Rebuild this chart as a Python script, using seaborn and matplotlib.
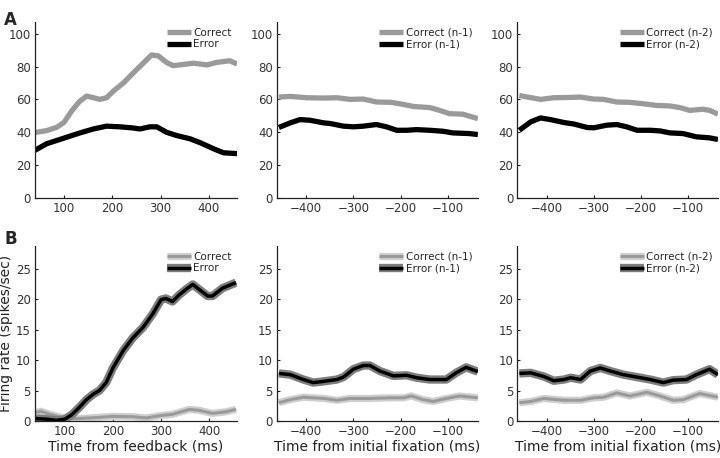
import numpy as np
import pandas as pd
import matplotlib
matplotlib.use("Agg")
import matplotlib.pyplot as plt
import matplotlib.patheffects as pe
import seaborn as sns

sns.set_theme(style="ticks")
plt.rcParams['font.family'] = ['DejaVu Sans']

# ---------------- data ----------------
# Panel A1 (time from feedback)
a1_c_x = [40, 64, 85, 100, 116, 133, 147, 161, 174, 188, 202, 223, 243, 264, 281, 295, 312, 326, 354, 368, 396, 416, 443, 458]
a1_c_y = [39.8, 41, 43, 46, 53, 59, 62, 61, 60, 61, 65, 70, 76, 82, 87, 86.5, 82.5, 80.5, 81.5, 82, 81, 82.5, 83.5, 81.5]
a1_e_x = [40, 64, 85, 106, 133, 161, 188, 216, 243, 257, 278, 292, 312, 333, 361, 382, 409, 430, 458]
a1_e_y = [29, 33, 35, 37, 39.6, 42, 43.7, 43.3, 42.6, 42, 43.3, 43.3, 40, 38, 36, 33.6, 30, 27.5, 27]

# Panel A2 (n-1)
a2_c_x = [-458, -434, -399, -363, -335, -307, -279, -251, -220, -201, -173, -138, -117, -96, -68, -36]
a2_c_y = [61.4, 61.8, 61, 60.8, 61, 60, 60.2, 58.4, 58.2, 57.3, 55.7, 55, 53.3, 51.3, 51, 48.3]
a2_e_x = [-458, -434, -413, -392, -363, -349, -321, -300, -279, -251, -230, -208, -187, -166, -138, -110, -89, -54, -36]
a2_e_y = [42.9, 45.7, 47.7, 47.3, 45.7, 45.3, 43.7, 43.3, 43.7, 44.7, 43.3, 41.2, 41.2, 41.6, 41.2, 40.6, 39.6, 39.2, 38.6]

# Panel A3 (n-2)
a3_c_x = [-458, -441, -413, -385, -349, -328, -300, -279, -251, -223, -194, -166, -138, -117, -96, -68, -54, -36]
a3_c_y = [62.4, 61.4, 60, 61, 61.2, 61.4, 60.2, 60, 58.4, 58.2, 57.3, 56.3, 56, 55, 53.3, 54, 53.3, 51]
a3_e_x = [-458, -434, -413, -392, -363, -342, -314, -300, -272, -251, -230, -208, -180, -159, -138, -110, -82, -54, -36]
a3_e_y = [41.2, 46.3, 48.7, 47.7, 45.9, 45, 42.9, 42.7, 44.3, 44.7, 43.3, 41.2, 41.2, 40.8, 39.6, 39.2, 37.2, 36.6, 35.6]

# Panel B1 (time from feedback)
b1_e_x = [40, 62, 83, 100, 114, 131, 145, 159, 172, 186, 200, 221, 241, 262, 283, 300, 310, 324, 338, 352, 366, 379, 397, 407, 428, 456]
b1_e_y = [0.4, 0.3, 0.1, 0.3, 1, 2.3, 3.5, 4.4, 5, 6.3, 8.7, 11.5, 13.6, 15.3, 17.6, 19.9, 20.1, 19.6, 20.7, 21.6, 22.4, 21.6, 20.5, 20.5, 21.8, 22.7]
b1_c_x = [40, 50, 69, 90, 103, 124, 152, 200, 241, 269, 300, 324, 359, 379, 407, 434, 456]
b1_c_y = [1.4, 1.6, 1.1, 0.65, 0.4, 0.4, 0.5, 0.75, 0.7, 0.5, 0.9, 1.1, 1.9, 1.75, 1.25, 1.5, 1.9]

# Panel B2 (n-1)
b2_e_x = [-458, -434, -406, -385, -363, -335, -321, -300, -279, -265, -244, -215, -187, -166, -138, -103, -82, -61, -36]
b2_e_y = [7.8, 7.6, 6.8, 6.3, 6.5, 6.8, 7.2, 8.5, 9.1, 9.1, 8.2, 7.4, 7.5, 7.1, 6.8, 6.8, 7.9, 8.8, 8.1]
b2_c_x = [-458, -434, -406, -363, -335, -307, -265, -223, -194, -177, -152, -131, -103, -75, -36]
b2_c_y = [3, 3.5, 3.9, 3.7, 3.4, 3.7, 3.7, 3.8, 3.8, 4.1, 3.5, 3.2, 3.7, 4.1, 3.8]

# Panel B3 (n-2)
b3_e_x = [-458, -434, -406, -385, -363, -349, -328, -307, -286, -265, -237, -208, -180, -152, -131, -103, -82, -54, -36]
b3_e_y = [7.8, 7.9, 7.3, 6.6, 6.8, 7.1, 6.8, 8.2, 8.7, 8.2, 7.6, 7.2, 6.8, 6.3, 6.7, 6.8, 7.6, 8.5, 7.6]
b3_c_x = [-458, -434, -406, -363, -328, -300, -279, -251, -223, -187, -159, -131, -110, -75, -36]
b3_c_y = [3, 3.2, 3.7, 3.4, 3.4, 3.8, 3.9, 4.6, 4.1, 4.7, 4.1, 3.4, 3.5, 4.5, 3.9]

labels_1 = ["Correct", "Error"]
labels_2 = ["Correct (n-1)", "Error (n-1)"]
labels_3 = ["Correct (n-2)", "Error (n-2)"]
xlabel_fb = "Time from feedback (ms)"
xlabel_fix = "Time from initial fixation (ms)"
ylabel_b = "Firing rate (spikes/sec)"
a_yticks = [0, 20, 40, 60, 80, 100]
b_yticks = [0, 5, 10, 15, 20, 25]
fb_xticks = [100, 200, 300, 400]
fix_xticks = [-400, -300, -200, -100]

# ---------------- style ----------------
GRAY = "#9a9a9a"
GRAY_BAND = "#cfcfcf"
BLACK = "#000000"
BLACK_BAND = "#7d7d7d"
TICK_COLOR = "#333333"

fig = plt.figure(figsize=(7.2, 4.58), dpi=100)
lefts = [0.0486, 0.3847, 0.7187]
widths = [0.2806, 0.279, 0.2785]
rowA = (0.5677, 0.384)
rowB = (0.0808, 0.382)

axes = {}
for r, (b, h) in zip("AB", [rowA, rowB]):
    for i in range(3):
        axes[(r, i)] = fig.add_axes([lefts[i], b, widths[i], h])


def style_ax(ax, xlim, ylim, xticks, yticks):
    ax.set_xlim(*xlim)
    ax.set_ylim(*ylim)
    ax.set_xticks(xticks)
    ax.set_yticks(yticks)
    sns.despine(ax=ax)
    for s in ("left", "bottom"):
        ax.spines[s].set_color("#222222")
        ax.spines[s].set_linewidth(0.9)
    ax.tick_params(direction="in", length=2.5, width=0.8, color="#222222",
                   labelsize=8.5, labelcolor=TICK_COLOR, pad=3)
    ax.set_xlabel("")
    ax.set_ylabel("")


def draw_a(ax, cx, cy, ex, ey, labels):
    sns.lineplot(x=cx, y=cy, ax=ax, color=GRAY, lw=3.8, label=labels[0],
                 solid_capstyle="butt", solid_joinstyle="round")
    sns.lineplot(x=ex, y=ey, ax=ax, color=BLACK, lw=3.8, label=labels[1],
                 solid_capstyle="butt", solid_joinstyle="round")


def draw_b(ax, cx, cy, ex, ey, labels):
    sns.lineplot(x=cx, y=cy, ax=ax, color=GRAY, lw=2.2, label=labels[0],
                 solid_capstyle="butt", solid_joinstyle="round",
                 path_effects=[pe.Stroke(linewidth=5.2, foreground=GRAY_BAND,
                                         capstyle="butt", joinstyle="round"),
                               pe.Normal()])
    sns.lineplot(x=ex, y=ey, ax=ax, color=BLACK, lw=2.5, label=labels[1],
                 solid_capstyle="butt", solid_joinstyle="round",
                 path_effects=[pe.Stroke(linewidth=6.0, foreground=BLACK_BAND,
                                         capstyle="butt", joinstyle="round"),
                               pe.Normal()])


def legend(ax):
    ax.legend(loc="upper right", frameon=False, fontsize=7.5,
              handlelength=2.3, handletextpad=0.2, labelspacing=0.15,
              borderaxespad=0.15, bbox_to_anchor=(1.0, 1.0))


draw_a(axes[("A", 0)], a1_c_x, a1_c_y, a1_e_x, a1_e_y, labels_1)
draw_a(axes[("A", 1)], a2_c_x, a2_c_y, a2_e_x, a2_e_y, labels_2)
draw_a(axes[("A", 2)], a3_c_x, a3_c_y, a3_e_x, a3_e_y, labels_3)
draw_b(axes[("B", 0)], b1_c_x, b1_c_y, b1_e_x, b1_e_y, labels_1)
draw_b(axes[("B", 1)], b2_c_x, b2_c_y, b2_e_x, b2_e_y, labels_2)
draw_b(axes[("B", 2)], b3_c_x, b3_c_y, b3_e_x, b3_e_y, labels_3)

for i in range(3):
    xl = (40, 458) if i == 0 else (-462, -36)
    xt = fb_xticks if i == 0 else fix_xticks
    style_ax(axes[("A", i)], xl, (0, 107), xt, a_yticks)
    style_ax(axes[("B", i)], (38, 458) if i == 0 else xl, (0, 28.7), xt, b_yticks)
    legend(axes[("A", i)])
    legend(axes[("B", i)])

axes[("B", 0)].set_xlabel(xlabel_fb, fontsize=10, color="#222222", labelpad=1)
axes[("B", 1)].set_xlabel(xlabel_fix, fontsize=10, color="#222222", labelpad=1)
axes[("B", 2)].set_xlabel(xlabel_fix, fontsize=10, color="#222222", labelpad=1)
axes[("B", 0)].set_ylabel(ylabel_b, fontsize=10, color="#222222", labelpad=2)

fig.text(0.006, 0.975, "A", fontsize=12, fontweight="bold", va="top", ha="left")
fig.text(0.006, 0.497, "B", fontsize=12, fontweight="bold", va="top", ha="left")

fig.savefig("out.png", dpi=100)
